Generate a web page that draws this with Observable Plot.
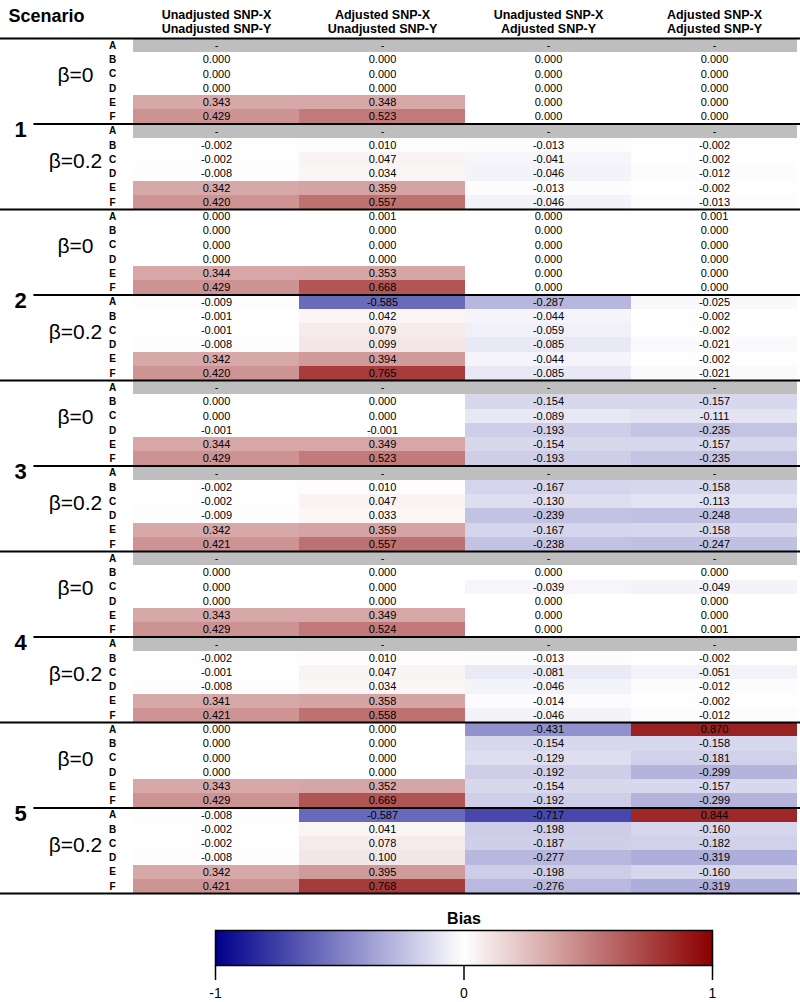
<!DOCTYPE html>
<html><head><meta charset="utf-8">
<script src="https://cdn.jsdelivr.net/npm/d3@7"></script>
<script src="https://cdn.jsdelivr.net/npm/@observablehq/plot@0.6"></script>
<style>body{margin:0;background:#fff} svg{display:block}</style>
</head><body><div id="chart"></div>
<script>
// ---- data ----
const columns = ["Unadjusted SNP-X\nUnadjusted SNP-Y", "Adjusted SNP-X\nUnadjusted SNP-Y", "Unadjusted SNP-X\nAdjusted SNP-Y", "Adjusted SNP-X\nAdjusted SNP-Y"];
const scenarios = ["1", "2", "3", "4", "5"];
const betas = ["β=0", "β=0.2"];
const methods = ["A", "B", "C", "D", "E", "F"];
const legendTicks = [-1, 0, 1];
const N = null;
// one entry per row: scenario 1..5, β=0 then β=0.2, methods A..F
const col1 = [
  N, 0.000, 0.000, 0.000, 0.343, 0.429,
  N, -0.002, -0.002, -0.008, 0.342, 0.420,
  0.000, 0.000, 0.000, 0.000, 0.344, 0.429,
  -0.009, -0.001, -0.001, -0.008, 0.342, 0.420,
  N, 0.000, 0.000, -0.001, 0.344, 0.429,
  N, -0.002, -0.002, -0.009, 0.342, 0.421,
  N, 0.000, 0.000, 0.000, 0.343, 0.429,
  N, -0.002, -0.001, -0.008, 0.341, 0.421,
  0.000, 0.000, 0.000, 0.000, 0.343, 0.429,
  -0.008, -0.002, -0.002, -0.008, 0.342, 0.421
];
const col2 = [
  N, 0.000, 0.000, 0.000, 0.348, 0.523,
  N, 0.010, 0.047, 0.034, 0.359, 0.557,
  0.001, 0.000, 0.000, 0.000, 0.353, 0.668,
  -0.585, 0.042, 0.079, 0.099, 0.394, 0.765,
  N, 0.000, 0.000, -0.001, 0.349, 0.523,
  N, 0.010, 0.047, 0.033, 0.359, 0.557,
  N, 0.000, 0.000, 0.000, 0.349, 0.524,
  N, 0.010, 0.047, 0.034, 0.358, 0.558,
  0.000, 0.000, 0.000, 0.000, 0.352, 0.669,
  -0.587, 0.041, 0.078, 0.100, 0.395, 0.768
];
const col3 = [
  N, 0.000, 0.000, 0.000, 0.000, 0.000,
  N, -0.013, -0.041, -0.046, -0.013, -0.046,
  0.000, 0.000, 0.000, 0.000, 0.000, 0.000,
  -0.287, -0.044, -0.059, -0.085, -0.044, -0.085,
  N, -0.154, -0.089, -0.193, -0.154, -0.193,
  N, -0.167, -0.130, -0.239, -0.167, -0.238,
  N, 0.000, -0.039, 0.000, 0.000, 0.000,
  N, -0.013, -0.081, -0.046, -0.014, -0.046,
  -0.431, -0.154, -0.129, -0.192, -0.154, -0.192,
  -0.717, -0.198, -0.187, -0.277, -0.198, -0.276
];
const col4 = [
  N, 0.000, 0.000, 0.000, 0.000, 0.000,
  N, -0.002, -0.002, -0.012, -0.002, -0.013,
  0.001, 0.000, 0.000, 0.000, 0.000, 0.000,
  -0.025, -0.002, -0.002, -0.021, -0.002, -0.021,
  N, -0.157, -0.111, -0.235, -0.157, -0.235,
  N, -0.158, -0.113, -0.248, -0.158, -0.247,
  N, 0.000, -0.049, 0.000, 0.000, 0.001,
  N, -0.002, -0.051, -0.012, -0.002, -0.012,
  0.870, -0.158, -0.181, -0.299, -0.157, -0.299,
  0.844, -0.160, -0.182, -0.319, -0.160, -0.319
];

// ---- build table ----
const colArrays = [col1, col2, col3, col4];
const cells = [], rowsInfo = [], groups = [];
scenarios.forEach((s, si) => betas.forEach((b, bi) => {
  const start = si * 12 + bi * 6;
  groups.push({scenario: s, beta: b, start, bi});
  methods.forEach((m, mi) => {
    const row = start + mi;
    rowsInfo.push({row, method: m});
    colArrays.forEach((arr, ci) => cells.push({row, col: ci, v: arr[row]}));
  });
}));
const nRows = rowsInfo.length;
const fmt = v => v == null ? "-" : v.toFixed(3);

const colorOpts = {type: "linear", domain: [-1, 0, 1], range: ["#00008b", "#ffffff", "#8b0000"], interpolate: "rgb"};
const narrow = "'Liberation Sans Narrow','Arial Narrow','Liberation Sans',Arial,sans-serif";
const sans = "'Liberation Sans',Arial,sans-serif";

const main = Plot.plot({
  width: 800, height: 900,
  marginLeft: 0, marginRight: 0, marginTop: 0, marginBottom: 0,
  x: {type: "linear", domain: [0, columns.length], range: [133, 797], axis: null},
  y: {type: "linear", domain: [0, nRows], range: [38, 893], axis: null},
  color: colorOpts,
  style: {fontFamily: sans, color: "#000", background: "#fff"},
  marks: [
    Plot.rect(cells.filter(d => d.v != null), {x1: "col", x2: d => d.col + 1, y1: "row", y2: d => d.row + 1, fill: "v", shapeRendering: "crispEdges"}),
    Plot.rect(cells.filter(d => d.v == null), {x1: "col", x2: d => d.col + 1, y1: "row", y2: d => d.row + 1, fill: "#bebebe", shapeRendering: "crispEdges"}),
    Plot.text(cells, {x: d => d.col + 0.5, y: d => d.row + 0.5, text: d => fmt(d.v), fontSize: 11, fontFamily: narrow, fill: "#000"}),
    // row method letters
    Plot.text(rowsInfo, {x: () => 0, dx: -21, y: d => d.row + 0.5, text: "method", fontSize: 10, fontWeight: "bold", fontFamily: narrow}),
    // beta labels
    Plot.text(groups, {x: () => 0, dx: -58, y: d => d.start + 2.6, text: "beta", fontSize: 21, fontFamily: sans}),
    // scenario numbers
    Plot.text(groups.filter(d => d.bi === 1), {x: () => 0, dx: -113, y: d => d.start + 0.45, text: "scenario", fontSize: 22, fontWeight: "bold"}),
    // headers
    Plot.text(columns, {x: (d, i) => i + 0.5, frameAnchor: "top", dy: 21, lineAnchor: "middle", text: d => d, fontSize: 12.5, fontWeight: "bold", fontFamily: narrow, lineHeight: 1.15}),
    Plot.text(["Scenario"], {frameAnchor: "top-left", dx: 8, dy: 16, lineAnchor: "middle", textAnchor: "start", fontSize: 18, fontWeight: "bold", fontFamily: narrow}),
    // separators
    Plot.ruleY(groups.filter(d => d.bi === 0).map(d => d.start).concat([nRows]), {stroke: "#000", strokeWidth: 2}),
    Plot.ruleY(groups.filter(d => d.bi === 1).map(d => d.start), {x1: () => -0.6, x2: () => columns.length + 1, stroke: "#000", strokeWidth: 2})
  ]
});

const legend = Plot.plot({
  width: 800, height: 102,
  marginLeft: 215, marginRight: 88, marginTop: 30, marginBottom: 37,
  x: {domain: [-1, 1]},
  y: {domain: [0, 1], axis: null},
  color: colorOpts,
  style: {fontFamily: sans, color: "#000", background: "#fff"},
  marks: [
    Plot.raster({x1: -1, x2: 1, y1: 0, y2: 1, fill: (x, y) => x, pixelSize: 1}),
    Plot.frame({stroke: "#000", strokeWidth: 1.5}),
    Plot.axisX({ticks: legendTicks, tickSize: 15, tickPadding: 8, fontSize: 14, strokeWidth: 1.5, tickFormat: d => String(d), label: null}),
    Plot.text(["Bias"], {frameAnchor: "top", dy: -18, fontSize: 16, fontWeight: "bold", fontFamily: sans})
  ]
});

const host = document.getElementById("chart");
host.append(main, legend);
</script>
</body></html>
